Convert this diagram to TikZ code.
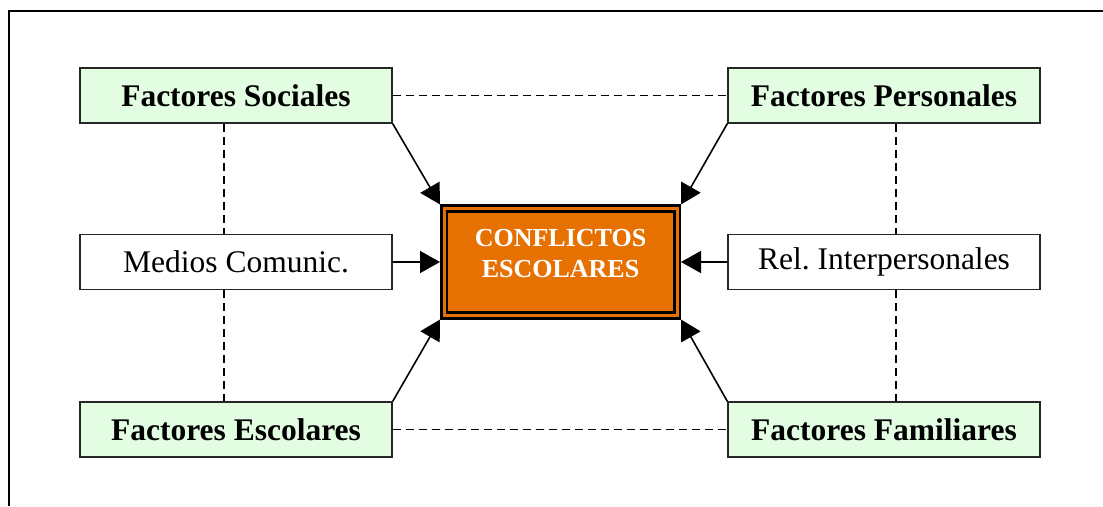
\documentclass[tikz,border=0pt]{standalone}
\usepackage{fontspec}
\setmainfont{Liberation Serif}
\usetikzlibrary{arrows.meta}

\definecolor{factorgreen}{RGB}{226,253,226}
\definecolor{conflorange}{RGB}{230,112,0}

\begin{document}
\begin{tikzpicture}[
    x=1pt, y=-1pt,
    >={Triangle[length=20pt,width=22pt]}, % Big filled arrow tips
    box/.style={draw=black!85, line width=1.5pt, minimum width=312pt,
                minimum height=55pt, inner sep=0pt,
                font=\fontsize{31.5}{36}\selectfont},
    factor/.style={box, fill=factorgreen, font=\fontsize{31.5}{36}\selectfont\bfseries},
    link/.style={->, line width=1.6pt},
    relation/.style={dashed, dash pattern=on 8pt off 5pt, line width=1.2pt}
]
    \useasboundingbox (0,0) rectangle (1103,506);

    % Frame (only its left and top edges are in view)
    \draw[line width=1.5pt] (9,506) -- (9,11) -- (1103,11);

    % Central box
    \node[fill=conflorange, draw=black, line width=2.6pt, double=conflorange,
          double distance=3pt, minimum width=233pt, minimum height=107pt,
          outer sep=4pt, align=center, text=white, text depth=18pt,
          font=\fontsize{26}{31}\selectfont\bfseries]
        (confl) at (560.5,262) {CONFLICTOS\\ESCOLARES};

    % Factor boxes
    \node[factor] (soc) at (236,95.5) {Factores Sociales};
    \node[factor] (pers) at (884,95.5) {Factores Personales};
    \node[box] (medios) at (236,262) {Medios Comunic.};
    \node[box] (rel) at (884,262) {Rel.\ Interpersonales};
    \node[factor] (esc) at (236,429.5) {Factores Escolares};
    \node[factor] (fam) at (884,429.5) {Factores Familiares};

    % Dashed relations between the boxes
    \draw[relation] (soc.east) -- (pers.west);
    \draw[relation] (esc.east) -- (fam.west);
    \draw[relation] ([xshift=-12pt]soc.south) -- ([xshift=-12pt]medios.north);
    \draw[relation] ([xshift=-12pt]medios.south) -- ([xshift=-12pt]esc.north);
    \draw[relation] ([xshift=12pt]pers.south) -- ([xshift=12pt]rel.north);
    \draw[relation] ([xshift=12pt]rel.south) -- ([xshift=12pt]fam.north);

    % Arrows into the conflicts
    \draw[link] (soc.south east) -- (confl.north west);
    \draw[link] (pers.south west) -- (confl.north east);
    \draw[link] (medios.east) -- (confl.west);
    \draw[link] (rel.west) -- (confl.east);
    \draw[link] (esc.north east) -- (confl.south west);
    \draw[link] (fam.north west) -- (confl.south east);

\end{tikzpicture}
\end{document}
